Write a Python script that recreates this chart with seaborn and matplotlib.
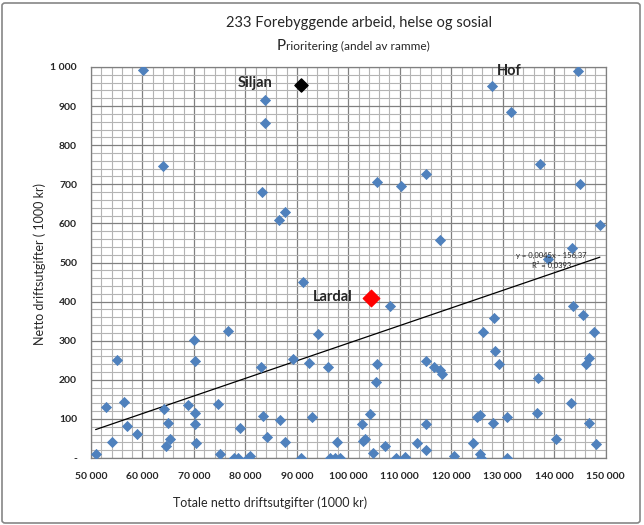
import numpy as np
import pandas as pd
import seaborn as sns
import matplotlib
matplotlib.use("Agg")
import matplotlib.pyplot as plt
from matplotlib.patches import FancyBboxPatch
from matplotlib.ticker import MultipleLocator, FuncFormatter

# totale netto driftsutgifter (1000 kr) / netto driftsutgifter 233 (1000 kr)
tot = [50900, 52900, 54150, 55060, 56500, 57060, 58950, 60060, 64070, 64200,
       64590, 65040, 65310, 68930, 70100, 70230, 70230, 70230, 70430, 74770,
       75160, 76710, 77880, 78660, 78990, 80600, 80870, 83130, 83140, 83520,
       83720, 83720, 84110, 86440, 86640, 87610, 87680, 89160, 90860, 91110,
       92280, 92860, 94100, 96050, 96500, 97410, 98300, 97860, 102720, 102850,
       103310, 104280, 104730, 105320, 105510, 105640, 107060, 108170, 109280, 110180,
       110950, 113290, 115040, 115180, 115180, 115180, 116600, 117760, 117900, 118220,
       120620, 124180, 125030, 125600, 125620, 125820, 126260, 128010, 128210, 128340,
       128600, 129240, 130800, 130870, 131520, 136630, 136830, 137160, 138770, 140330,
       143250, 143520, 143640, 144610, 144990, 145590, 146170, 146690, 146690, 147730,
       148050, 148890]
netto = [9, 130, 42, 250, 142, 81, 61, 992, 746, 125,
         31, 89, 48, 135, 303, 248, 116, 87, 38, 137,
         10, 325, 0, 0, 76, 1, 4, 234, 680, 107,
         916, 858, 54, 608, 96, 628, 40, 252, 0, 449,
         242, 104, 317, 232, 0, 0, 0, 42, 86, 43,
         49, 112, 14, 194, 240, 705, 31, 390, 0, 695,
         3, 38, 726, 247, 86, 20, 232, 557, 225, 214,
         6, 38, 104, 109, 10, 0, 321, 951, 89, 357,
         273, 240, 0, 104, 884, 114, 204, 751, 508, 48,
         140, 536, 390, 991, 700, 367, 240, 255, 89, 321,
         36, 596]

siljan = (90720, 954)
lardal = (104470, 408)

# trendline shown in the chart
slope = 0.0045
intercept = -156.37
trend_text = "y = 0,0045x - 156,37\nR² = 0,0393"

sns.set_style("white")
plt.rcParams['font.family'] = ['Lato', 'DejaVu Sans']

fig = plt.figure(figsize=(6.44, 5.25), dpi=100)
ax = fig.add_axes([91/644, 1-458/525, 514.6/644, 391/525])

df = pd.DataFrame({"tot": tot, "netto": netto})
sns.scatterplot(data=df, x="tot", y="netto", ax=ax, marker="D", s=26,
                color="#4F81BD", edgecolor="#4F81BD", linewidth=0.6, zorder=3)

ax.scatter([siljan[0]], [siljan[1]], marker="D", s=45, color="black", zorder=4)
ax.scatter([lardal[0]], [lardal[1]], marker="D", s=70, color="#FF0000", zorder=4)

xs = np.array([min(tot), max(tot)])
ax.plot(xs, slope * xs + intercept, color="black", lw=0.9, zorder=2)

ax.set_xlim(50000, 150000)
ax.set_ylim(0, 1000)
ax.xaxis.set_major_locator(MultipleLocator(10000))
ax.xaxis.set_minor_locator(MultipleLocator(2000))
ax.yaxis.set_major_locator(MultipleLocator(100))
ax.yaxis.set_minor_locator(MultipleLocator(20))
ax.grid(True, which="major", color="#808080", lw=0.9)
ax.grid(True, which="minor", color="#B4B4B4", lw=0.8)
ax.set_axisbelow(True)

def thousands(v, pos):
    if v == 0:
        return "-"
    return f"{int(v):,}".replace(",", " ")

ax.xaxis.set_major_formatter(FuncFormatter(thousands))
ax.yaxis.set_major_formatter(FuncFormatter(thousands))
ax.tick_params(axis="both", which="major", labelsize=7.5, length=0, pad=10)
for lab in ax.get_xticklabels() + ax.get_yticklabels():
    lab.set_fontweight("bold")
for s in ax.spines.values():
    s.set_color("#808080")
    s.set_linewidth(0.9)

ax.set_xlabel("")
ax.set_ylabel("")

ax.text(siljan[0] - 5500, siljan[1] + 5, "Siljan", ha="right", va="center",
        fontsize=10.5, fontweight="bold")
ax.text(lardal[0] - 3700, lardal[1] + 5, "Lardal", ha="right", va="center",
        fontsize=10.5, fontweight="bold")
ax.text(131300, 990, "Hof", ha="center", va="center",
        fontsize=10.5, fontweight="bold")
ax.text(139500, 506, trend_text, ha="center", va="center", fontsize=5.5,
        linespacing=1.3)

fig.text(359/644, 1-23/525, "233 Forebyggende arbeid, helse og sosial",
         ha="center", va="center", fontsize=10.5)
fig.text(277/644, 1-50/525, "P", ha="left", va="baseline", fontsize=11)
fig.text(286/644, 1-50/525, "rioritering (andel av ramme)",
         ha="left", va="baseline", fontsize=8.6)
fig.text(270/644, 1-503/525, "Totale netto driftsutgifter (1000 kr)",
         ha="center", va="center", fontsize=9)
fig.text(40/644, 1-264/525, "Netto driftsutgifter ( 1000 kr)",
         ha="center", va="center", fontsize=9, rotation=90)

fig.patches.append(FancyBboxPatch((2/644, 2/525), 638/644, 520/525,
                                  boxstyle="round,pad=0,rounding_size=0.005",
                                  transform=fig.transFigure, fill=False,
                                  edgecolor="#868686", lw=1.2))

fig.savefig("out.png", dpi=100)
